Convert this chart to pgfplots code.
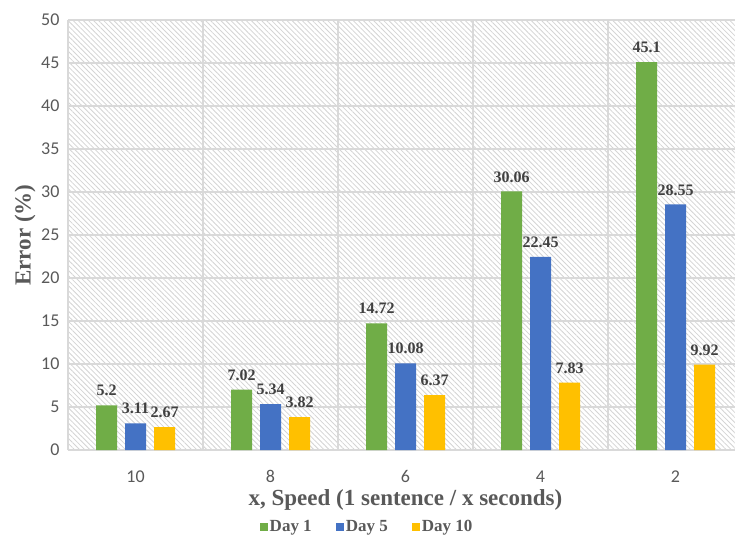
\documentclass[border=0pt]{standalone}
\usepackage{pgfplots}
\pgfplotsset{compat=1.18}
\usetikzlibrary{patterns.meta}
\usepackage{fontspec}
\setmainfont{Liberation Serif}
\newfontfamily\ticksfont{Carlito}

\definecolor{dayone}{HTML}{70AD47}
\definecolor{dayfive}{HTML}{4472C4}
\definecolor{dayten}{HTML}{FFC000}
\definecolor{gridgray}{HTML}{D9D9D9}
\definecolor{hatchgray}{HTML}{D4D4D4}
\definecolor{labelgray}{HTML}{595959}
\definecolor{valuegray}{HTML}{404040}

\begin{document}
\begin{tikzpicture}
\useasboundingbox (0,0) rectangle (735pt,538pt);
\clip (0,0) rectangle (735pt,538pt);
\begin{axis}[
  at={(68pt,88pt)}, anchor=south west,
  scale only axis, width=675pt, height=430pt,
  xmin=-0.5, xmax=4.5, ymin=0, ymax=50,
  ytick distance=5,
  xtick={0,1,2,3,4},
  xticklabels={10,8,6,4,2},
  minor xtick={-0.5,0.5,1.5,2.5,3.5,4.5},
  ymajorgrids, xminorgrids,
  grid style={draw=gridgray, line width=1.4pt},
  minor grid style={draw=gridgray, line width=1.4pt},
  axis line style={draw=none},
  major tick length=0pt, minor tick length=0pt,
  axis background/.style={preaction={fill=white},
    pattern={Lines[angle=-45, distance=3.6pt, line width=0.8pt]},
    pattern color=hatchgray},
  tick label style={font=\ticksfont\fontsize{18}{20}\selectfont, text=labelgray,
    /pgf/number format/assume math mode=true},
  yticklabel style={xshift=-5pt},
  xticklabel style={yshift=-17pt},
  xlabel={x, Speed (1 sentence / x seconds)},
  ylabel={Error (\%)},
  label style={font=\bfseries\fontsize{23}{26}\selectfont, text=labelgray},
  xlabel style={at={(axis description cs:0.5,0)}, anchor=base, yshift=-55pt},
  ylabel style={at={(axis description cs:-0.0637,0.5)}, anchor=center},
  ybar=8pt, bar width=21pt,
  nodes near coords,
  nodes near coords style={font=\bfseries\fontsize{16}{18}\selectfont,
    text=valuegray, anchor=south, inner sep=1pt, yshift=8pt,
    /pgf/number format/assume math mode=true,
    /pgf/number format/fixed, /pgf/number format/precision=2},
  legend style={at={(axis description cs:0.443,0)}, anchor=center, yshift=-77pt,
    draw=none, fill=none, legend columns=3,
    font=\bfseries\fontsize{17}{19}\selectfont, text=labelgray,
    /tikz/every even column/.append style={column sep=22pt}},
  legend image code/.code={\fill[#1, draw=none] (0pt,-4pt) rectangle (8pt,4pt);},
]
\addplot[fill=dayone, draw=none] coordinates {(0,5.2) (1,7.02) (2,14.72) (3,30.06) (4,45.1)};
\addplot[fill=dayfive, draw=none] coordinates {(0,3.11) (1,5.34) (2,10.08) (3,22.45) (4,28.55)};
\addplot[fill=dayten, draw=none] coordinates {(0,2.67) (1,3.82) (2,6.37) (3,7.83) (4,9.92)};
\legend{Day 1, Day 5, Day 10}
\end{axis}
\end{tikzpicture}
\end{document}
